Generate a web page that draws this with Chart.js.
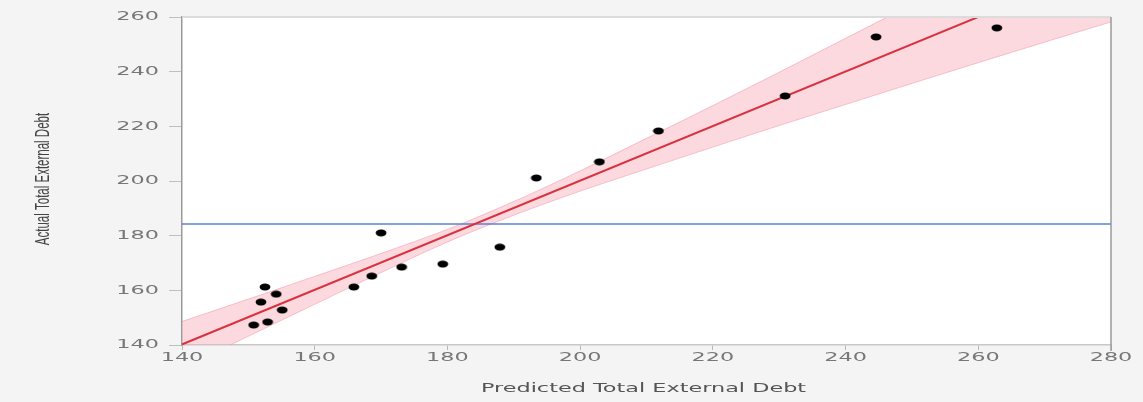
<!DOCTYPE html>
<html>
<head>
<meta charset="utf-8">
<script src="https://cdn.jsdelivr.net/npm/chart.js@4/dist/chart.umd.min.js"></script>
<style>
  html, body { margin: 0; padding: 0; background: #f4f4f4; }
  #wrap { width: 1143px; height: 402px; }
</style>
</head>
<body>
<div id="wrap"><canvas id="fit" width="1143" height="402"></canvas></div>
<script>
// observed points (predicted, actual)
const predicted = [150.8, 151.9, 152.5, 152.9, 154.2, 155.1, 165.9, 168.6, 170.0, 173.1, 179.3, 187.9, 193.4, 202.9, 211.8, 230.9, 244.6, 262.8];
const actual    = [147.3, 155.7, 161.2, 148.4, 158.6, 152.8, 161.2, 165.2, 181.0, 168.5, 169.6, 175.8, 201.1, 207.0, 218.3, 231.1, 252.7, 256.0];

// fit line and its confidence band
const fitX = [140, 280];
const fitY = [140.2, 280];
const bandX     = [140, 150, 160, 170, 180, 190, 200, 210, 220, 230, 240, 250, 260, 270, 280];
const bandUpper = [148.6, 156.8, 165.1, 173.5, 182.3, 192.5, 203.7, 215.6, 227.6, 239.8, 252.2, 264.6, 277.0, 289.4, 301.8];
const bandLower = [131.4, 143.2, 154.9, 166.5, 177.7, 187.5, 196.3, 204.4, 212.4, 220.3, 228.0, 235.7, 243.3, 250.8, 258.2];

// mean of actual
const meanY = 184.3;

const xTicks = [140, 160, 180, 200, 220, 240, 260, 280];
const yTicks = [140, 160, 180, 200, 220, 240, 260];

const xTitle = 'Predicted Total External Debt';
const yTitle = 'Actual Total External Debt';

const pts = (xs, ys) => xs.map((x, i) => ({ x: x, y: ys[i] }));

// black oval marker
const dot = document.createElement('canvas');
dot.width = 12; dot.height = 8;
const dctx = dot.getContext('2d');
dctx.fillStyle = '#000';
dctx.beginPath();
dctx.ellipse(6, 4, 5.4, 3.4, 0, 0, Math.PI * 2);
dctx.fill();

const STRETCH = 1.72;

function wideText(ctx, text, x, y, align) {
    ctx.save();
    ctx.translate(x, y);
    ctx.scale(STRETCH, 1);
    ctx.textAlign = align;
    ctx.fillText(text, 0, 0);
    ctx.restore();
}

const framePlugin = {
    id: 'frame',
    beforeDraw(chart) {
        const { ctx, chartArea: a } = chart;
        ctx.save();
        ctx.fillStyle = '#ffffff';
        ctx.fillRect(a.left, a.top, a.right - a.left, a.bottom - a.top);
        ctx.restore();
    },
    afterDraw(chart) {
        const { ctx, chartArea: a, scales } = chart;
        ctx.save();
        // frame lines
        ctx.strokeStyle = '#dcdcdc';
        ctx.lineWidth = 2;
        ctx.beginPath();
        ctx.moveTo(a.left, a.top); ctx.lineTo(a.right, a.top);
        ctx.stroke();
        ctx.strokeStyle = '#9a9a9a';
        ctx.lineWidth = 1.5;
        ctx.beginPath();
        ctx.moveTo(a.right, a.top); ctx.lineTo(a.right, a.bottom + 6);
        ctx.stroke();

        // tick labels
        ctx.fillStyle = '#777777';
        ctx.font = '13px "DejaVu Sans"';
        ctx.textBaseline = 'middle';
        scales.y.ticks.forEach(t => {
            wideText(ctx, String(t.value), 159, scales.y.getPixelForValue(t.value), 'right');
        });
        scales.x.ticks.forEach(t => {
            wideText(ctx, String(t.value), scales.x.getPixelForValue(t.value), 358, 'center');
        });

        // axis titles
        ctx.fillStyle = '#555555';
        ctx.font = '13px "DejaVu Sans"';
        wideText(ctx, xTitle, (a.left + a.right) / 2 - 3, 389, 'center');

        ctx.fillStyle = '#444444';
        ctx.font = '11.5px "Liberation Sans"';
        ctx.save();
        ctx.translate(44, 179);
        ctx.scale(STRETCH, 1);
        ctx.rotate(-Math.PI / 2);
        ctx.textAlign = 'center';
        ctx.fillText(yTitle, 0, 0);
        ctx.restore();
        ctx.restore();
    }
};

new Chart(document.getElementById('fit'), {
    type: 'scatter',
    data: {
        datasets: [
            {
                label: 'Actual',
                data: pts(predicted, actual),
                pointStyle: dot,
                pointRadius: 5,
                order: 0
            },
            {
                label: 'Fit',
                data: pts(fitX, fitY),
                showLine: true,
                borderColor: '#d8323f',
                borderWidth: 2,
                pointRadius: 0,
                order: 1
            },
            {
                label: 'Mean',
                data: fitX.map(x => ({ x: x, y: meanY })),
                showLine: true,
                borderColor: '#5a82d2',
                borderWidth: 1.5,
                pointRadius: 0,
                order: 2
            },
            {
                label: 'Lower',
                data: pts(bandX, bandLower),
                showLine: true,
                borderColor: 'rgba(238,150,165,0.55)',
                borderWidth: 1,
                pointRadius: 0,
                tension: 0.3,
                order: 4
            },
            {
                label: 'Upper',
                data: pts(bandX, bandUpper),
                showLine: true,
                borderColor: 'rgba(238,150,165,0.55)',
                borderWidth: 1,
                pointRadius: 0,
                tension: 0.3,
                fill: { target: 3 },
                backgroundColor: 'rgba(246,170,184,0.45)',
                order: 3
            }
        ]
    },
    plugins: [framePlugin],
    options: {
        responsive: false,
        animation: false,
        layout: { padding: { left: 0, right: 32, top: 17, bottom: 0 } },
        plugins: {
            legend: { display: false },
            tooltip: { enabled: false }
        },
        scales: {
            x: {
                type: 'linear',
                min: 140,
                max: 280,
                afterBuildTicks: s => { s.ticks = xTicks.map(v => ({ value: v })); },
                afterFit: s => { s.height = 57; },
                ticks: { display: false },
                border: { color: '#c8c8c8', width: 1.5 },
                grid: { drawOnChartArea: false, color: '#b8b8b8', tickLength: 5 }
            },
            y: {
                type: 'linear',
                min: 140,
                max: 260,
                afterBuildTicks: s => { s.ticks = yTicks.map(v => ({ value: v })); },
                afterFit: s => { s.width = 182; },
                ticks: { display: false },
                border: { color: '#9a9a9a', width: 1.5 },
                grid: { drawOnChartArea: false, color: '#c0c0c0', tickLength: 13 }
            }
        }
    }
});
</script>
</body>
</html>
